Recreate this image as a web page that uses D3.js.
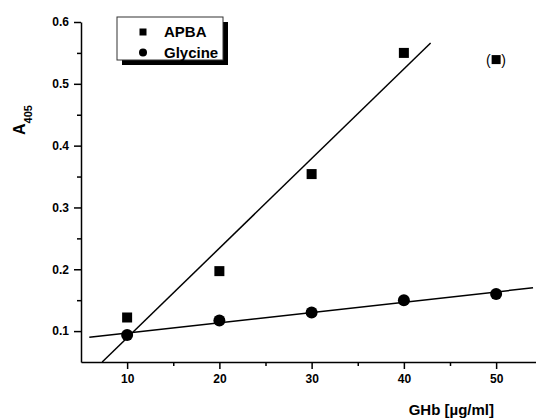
<!DOCTYPE html>
<html><head><meta charset="utf-8">
<script src="https://cdn.jsdelivr.net/npm/d3@7"></script>
<style>
html,body{margin:0;padding:0;background:#fff;}
svg{display:block;font-family:Arial,"Liberation Sans",sans-serif;}
</style></head>
<body>
<svg id="c" width="536" height="419"></svg>
<script>
const seriesNames = ["APBA", "Glycine"];
const xValues = [10, 20, 30, 40];
const apbaValues = [0.122, 0.197, 0.354, 0.550];
const apbaOutlier = [50, 0.540];
const glyX = [10, 20, 30, 40, 50];
const glycineValues = [0.0935, 0.117, 0.130, 0.1497, 0.160];
const apbaFit = [[7.3, 0.05], [42.9, 0.566]];
const glycineFit = [[5.9, 0.090], [54.0, 0.170]];
const xTicks = [10, 20, 30, 40, 50];
const xMinorTicks = [15, 25, 35, 45];
const yTicks = [0.1, 0.2, 0.3, 0.4, 0.5, 0.6];
const yMinorTicks = [0.15, 0.25, 0.35, 0.45, 0.55];

const svg = d3.select("#c");
const x = d3.scaleLinear().domain([5, 55]).range([81, 542.25]);
const y = d3.scaleLinear().domain([0.05, 0.6]).range([362, 22]);

// axes
const xAxis = svg.append("g").attr("transform", `translate(0,${y(0.05)})`)
  .call(d3.axisBottom(x).tickValues(xTicks).tickSize(7).tickSizeOuter(0).tickFormat(d3.format("d")));
svg.append("g").attr("transform", `translate(0,${y(0.05)})`)
  .call(d3.axisBottom(x).tickValues(xMinorTicks).tickSize(4).tickSizeOuter(0).tickFormat(""))
  .select(".domain").remove();
const yAxis = svg.append("g").attr("transform", `translate(${x(5)},0)`)
  .call(d3.axisLeft(y).tickValues(yTicks).tickSize(7).tickSizeOuter(0).tickFormat(d3.format(".1f")));
svg.append("g").attr("transform", `translate(${x(5)},0)`)
  .call(d3.axisLeft(y).tickValues(yMinorTicks).tickSize(4).tickSizeOuter(0).tickFormat(""))
  .select(".domain").remove();
svg.selectAll(".domain, .tick line").attr("stroke", "#000").attr("stroke-width", 1.5);
xAxis.selectAll("text").attr("font-size", 12).attr("font-weight", "bold").attr("dy", "0.95em").attr("fill","#000");
yAxis.selectAll("text").attr("font-size", 12).attr("font-weight", "bold").attr("x", -12).attr("fill","#000");

// axis labels
svg.append("text").attr("x", 494).attr("y", 415).attr("text-anchor", "end")
  .attr("font-size", 15).attr("font-weight", "bold").text("GHb [µg/ml]");
const yl = svg.append("text").attr("transform", "translate(25,135) rotate(-90)")
  .attr("font-size", 16).attr("font-weight", "bold");
yl.append("tspan").text("A");
yl.append("tspan").attr("font-size", 11).attr("dy", 7).text("405");

// fit lines
const line = d3.line().x(d => x(d[0])).y(d => y(d[1]));
svg.append("path").attr("d", line(apbaFit)).attr("stroke", "#000").attr("stroke-width", 1.5).attr("fill", "none");
svg.append("path").attr("d", line(glycineFit)).attr("stroke", "#000").attr("stroke-width", 1.5).attr("fill", "none");

// points
const sq = 10;
svg.selectAll("rect.apba").data(xValues.map((v, i) => [v, apbaValues[i]])).enter()
  .append("rect").attr("class", "apba")
  .attr("x", d => x(d[0]) - sq / 2).attr("y", d => y(d[1]) - sq / 2)
  .attr("width", sq).attr("height", sq).attr("fill", "#000");
svg.selectAll("circle.gly").data(glyX.map((v, i) => [v, glycineValues[i]])).enter()
  .append("circle").attr("class", "gly")
  .attr("cx", d => x(d[0])).attr("cy", d => y(d[1])).attr("r", 6).attr("fill", "#000");

// outlier in parentheses
const ox = x(apbaOutlier[0]), oy = y(apbaOutlier[1]);
svg.append("rect").attr("x", ox - 4.5).attr("y", oy - 4).attr("width", 9).attr("height", 9).attr("fill", "#000");
svg.append("text").attr("x", ox - 5.5).attr("y", oy + 5.5).attr("text-anchor", "end").attr("font-size", 14).text("(");
svg.append("text").attr("x", ox + 5).attr("y", oy + 5.5).attr("font-size", 14).text(")");

// legend
const lg = svg.append("g");
lg.append("rect").attr("x", 122).attr("y", 22).attr("width", 106).attr("height", 43).attr("fill", "#000");
lg.append("rect").attr("x", 117).attr("y", 17).attr("width", 106).attr("height", 43)
  .attr("fill", "#fff").attr("stroke", "#333").attr("stroke-width", 1);
lg.append("rect").attr("x", 139.5).attr("y", 28.5).attr("width", 7).attr("height", 7).attr("fill", "#000");
lg.append("circle").attr("cx", 143).attr("cy", 52.5).attr("r", 4).attr("fill", "#000");
lg.selectAll("text").data(seriesNames).enter().append("text")
  .attr("x", 164).attr("y", (d, i) => 37 + i * 20.5)
  .attr("font-size", 15).attr("font-weight", "bold").text(d => d);
</script>
</body></html>
